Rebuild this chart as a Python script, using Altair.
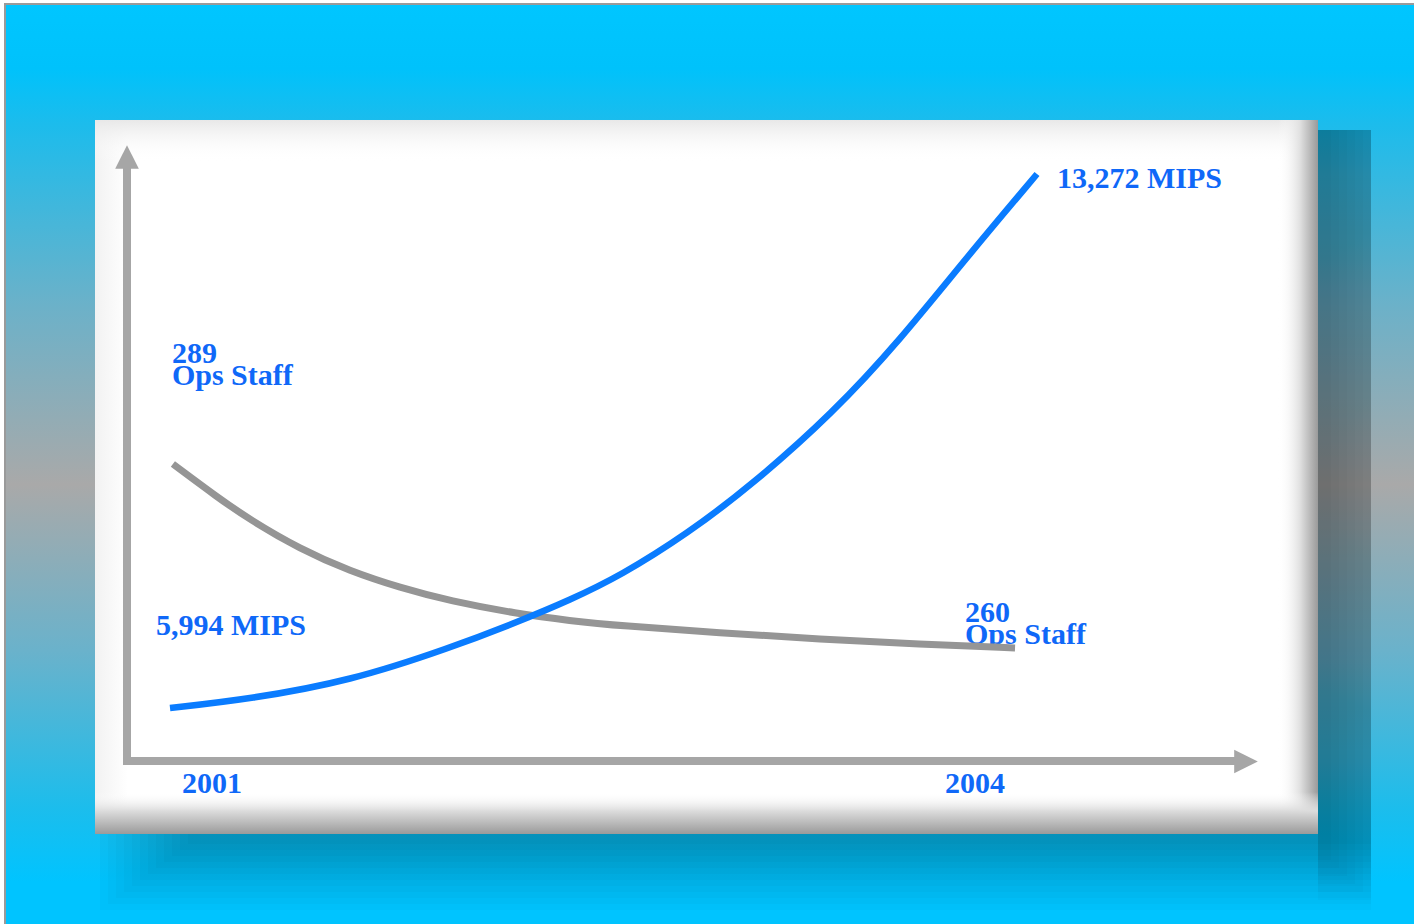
import altair as alt
import pandas as pd

# ---- data ----
mips_year = [2001.000, 2001.277, 2001.623, 2001.969, 2002.211, 2002.384, 2002.557,
             2002.789, 2003.017, 2003.294, 2003.526, 2003.758, 2004.000]
mips_value = [5994, 6117, 6362, 6812, 7180, 7466, 7793, 8365, 9047, 10015, 11009, 12141, 13272]

staff_year = [2001.010, 2001.163, 2001.277, 2001.450, 2001.623, 2001.796, 2001.969,
              2002.201, 2002.384, 2002.557, 2002.903, 2003.249, 2003.595, 2003.924]
staff_value = [289.0, 283.8, 280.2, 275.6, 272.1, 269.5, 267.4, 265.4, 264.3, 263.5,
               262.4, 261.4, 260.6, 260.0]

year_ticks = [2001, 2004]
year_labels = ["2001", "2004"]
mips_labels = ["5,994 MIPS", "13,272 MIPS"]
staff_labels = ["289\nOps Staff", "260\nOps Staff"]

mips_df = pd.DataFrame({"year": mips_year, "mips": mips_value})
staff_df = pd.DataFrame({"year": staff_year, "staff": staff_value})
one = pd.DataFrame({"_": [0]})

W, H = 1414, 924
xscale = alt.Scale(domain=[2000.41176, 2005.30450], nice=False, zero=False)
yscale_mips = alt.Scale(domain=[3050.1, 15643.6], nice=False, zero=False)
yscale_staff = alt.Scale(domain=[216.50, 362.13], nice=False, zero=False)

TEXT_COLOR = "#0f68f8"
FONT = "Liberation Serif"
GREY = "#a6a6a6"


def grad(stops, vertical=True):
    return alt.Gradient(
        gradient="linear",
        stops=[alt.GradientStop(offset=o, color=c) for o, c in stops],
        x1=0, y1=0, x2=0 if vertical else 1, y2=1 if vertical else 0,
    )


def box(x1, x2, y1, y2, **mark):
    return alt.Chart(one).mark_rect(**mark).encode(
        x=alt.value(x1), x2=alt.value(x2), y=alt.value(y1), y2=alt.value(y2)
    )


# ---- slide background ----
bg = box(5, W + 4, 4, H + 4,
         color=grad([(0.0, "#00c6ff"), (0.07, "#00c2fb"), (0.13, "#1cbcec"),
                     (0.33, "#6db1c8"), (0.52, "#a9a9a9"), (0.70, "#6ab2cb"),
                     (0.87, "#1cbdec"), (0.95, "#00c4ff"), (1.0, "#00c4ff")]),
         stroke="#9a9a9a", strokeWidth=2)

# ---- soft drop shadow (stacked translucent layers imitate a blur) ----
shadows = []
for i in range(12):
    shadows.append(box(100 + 8 * i, 1371, 130, 910 - 6 * i, color="black", opacity=0.02))
for i in range(6):
    shadows.append(box(1318, 1371 - 8 * i, 130, 900 - 8 * i, color="black", opacity=0.02))

# ---- white panel with bevel ----
panel = box(95, 1318, 120, 834, color="white")
bevel_left = box(95, 128, 120, 834,
                 color=grad([(0, "#f2f2f2"), (1, "#ffffff")], vertical=False))
bevel_top = box(95, 1318, 120, 162,
                color=grad([(0, "#e8e8e8"), (1, "rgba(255,255,255,0)")]))
bevel_right = box(1278, 1318, 120, 834,
                  color=grad([(0, "rgba(255,255,255,0)"), (0.55, "#e0e0e0"), (1, "#9a9a9a")],
                             vertical=False))
bevel_bottom = box(95, 1318, 792, 834,
                   color=grad([(0, "rgba(255,255,255,0)"), (0.45, "#dcdcdc"), (1, "#9a9a9a")]))

# ---- arrow axes ----
v_axis = alt.Chart(one).mark_rule(color=GREY, strokeWidth=8, strokeCap="butt").encode(
    x=alt.value(127), y=alt.value(165), y2=alt.value(765))
h_axis = alt.Chart(one).mark_rule(color=GREY, strokeWidth=8, strokeCap="butt").encode(
    x=alt.value(123), x2=alt.value(1238), y=alt.value(761))
v_head = alt.Chart(one).mark_point(shape="M0,-1L-1,1L1,1Z", filled=True, size=560,
                                   color=GREY, opacity=1).encode(
    x=alt.value(127), y=alt.value(157))
h_head = alt.Chart(one).mark_point(shape="M1,0L-1,-1L-1,1Z", filled=True, size=560,
                                   color=GREY, opacity=1).encode(
    x=alt.value(1246), y=alt.value(761.5))

# ---- labels ----
def tx(**kw):
    base = dict(font=FONT, fontSize=30, fontWeight="bold", color=TEXT_COLOR,
                align="left", baseline="alphabetic", lineBreak="\n", lineHeight=22)
    base.update(kw)
    return base

mips_lab_df = pd.DataFrame({"year": [mips_year[0], mips_year[-1]],
                            "mips": [mips_value[0], mips_value[-1]],
                            "label": mips_labels})
staff_lab_df = pd.DataFrame({"year": [staff_year[0], staff_year[-1]],
                             "staff": [staff_value[0], staff_value[-1]],
                             "label": staff_labels})
year_df = pd.DataFrame({"year": year_ticks, "label": year_labels})

def mips_label(i, dx, dy):
    return alt.Chart(mips_lab_df.iloc[[i]]).mark_text(**tx(dx=dx, dy=dy)).encode(
        x=alt.X("year:Q", scale=xscale, axis=None),
        y=alt.Y("mips:Q", scale=yscale_mips, axis=None),
        text="label:N")

def staff_label(i, dx, dy):
    return alt.Chart(staff_lab_df.iloc[[i]]).mark_text(**tx(dx=dx, dy=dy)).encode(
        x=alt.X("year:Q", scale=xscale, axis=None),
        y=alt.Y("staff:Q", scale=yscale_staff, axis=None),
        text="label:N")

def year_label(i, dx):
    return alt.Chart(year_df.iloc[[i]]).mark_text(**tx(dx=dx)).encode(
        x=alt.X("year:Q", scale=xscale, axis=None),
        y=alt.value(793),
        text="label:N")

labels = [
    mips_label(0, -14, -73),
    mips_label(1, 20, 14),
    staff_label(0, -1, -101),
    staff_label(1, -50, -26),
    year_label(0, 12),
    year_label(1, -92),
]

# ---- data lines ----
staff_line = alt.Chart(staff_df).mark_line(color="#959595", strokeWidth=7,
                                           strokeCap="butt", interpolate="basis").encode(
    x=alt.X("year:Q", scale=xscale, axis=None),
    y=alt.Y("staff:Q", scale=yscale_staff, axis=None))
mips_line = alt.Chart(mips_df).mark_line(color="#0a7cff", strokeWidth=6.5,
                                         strokeCap="butt", interpolate="basis").encode(
    x=alt.X("year:Q", scale=xscale, axis=None),
    y=alt.Y("mips:Q", scale=yscale_mips, axis=None))

chart = alt.layer(
    bg, *shadows, panel, bevel_left, bevel_top, bevel_right, bevel_bottom,
    v_axis, h_axis, v_head, h_head,
    *labels, staff_line, mips_line,
).resolve_scale(y="independent").properties(
    width=W, height=H, autosize=alt.AutoSizeParams(type="none"), padding=0,
    background="white",
).configure_view(strokeWidth=0)

chart.save("out.html", embed_options={"renderer": "svg", "actions": False})
